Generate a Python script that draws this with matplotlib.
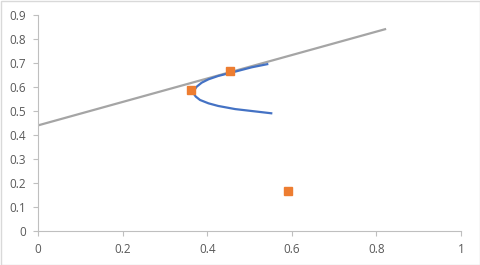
import matplotlib
matplotlib.use("Agg")
import matplotlib.pyplot as plt
from matplotlib.patches import Rectangle

# Data
line_x = [0.0, 0.823]
line_y = [0.44, 0.842]

curve_x = [0.5445, 0.505, 0.466, 0.426, 0.403, 0.387, 0.375, 0.370, 0.368, 0.369, 0.373, 0.383, 0.403, 0.426, 0.466, 0.505, 0.554]
curve_y = [0.696, 0.682, 0.664, 0.646, 0.632, 0.618, 0.601, 0.588, 0.580, 0.570, 0.560, 0.546, 0.532, 0.521, 0.508, 0.500, 0.490]

pts_x = [0.361, 0.455, 0.590]
pts_y = [0.5875, 0.667, 0.167]

xticks = [0, 0.2, 0.4, 0.6, 0.8, 1]
xtick_labels = ["0", "0.2", "0.4", "0.6", "0.8", "1"]
yticks = [0, 0.1, 0.2, 0.3, 0.4, 0.5, 0.6, 0.7, 0.8, 0.9]
ytick_labels = ["0", "0.1", "0.2", "0.3", "0.4", "0.5", "0.6", "0.7", "0.8", "0.9"]

plt.rcParams['font.family'] = ['Open Sans', 'DejaVu Sans']

fig = plt.figure(figsize=(4.8, 2.65), dpi=100)
ax = fig.add_axes([38/480, 34/265, 423/480, 216/265])

ax.plot(line_x, line_y, color="#A5A5A5", lw=1.6, solid_capstyle="butt", zorder=2)
ax.plot(curve_x, curve_y, color="#4472C4", lw=1.6, solid_joinstyle="round",
        solid_capstyle="butt", zorder=3)
ax.plot(pts_x, pts_y, linestyle="none", marker="s", markersize=6.3,
        color="#ED7D31", markeredgecolor="#ED7D31", zorder=4)

ax.set_xlim(0, 1)
ax.set_ylim(0, 0.9)
ax.set_xticks(xticks)
ax.set_xticklabels(xtick_labels)
ax.set_yticks(yticks)
ax.set_yticklabels(ytick_labels)

for s in ["top", "right"]:
    ax.spines[s].set_visible(False)
for s in ["left", "bottom"]:
    ax.spines[s].set_color("#BFBFBF")
    ax.spines[s].set_linewidth(0.8)

ax.tick_params(axis="both", direction="out", length=3.5, width=0.8, color="#BFBFBF",
               labelcolor="#595959", labelsize=8.5)
ax.tick_params(axis="x", pad=5)
ax.tick_params(axis="y", pad=5)

fig.patches.append(Rectangle((0.5/480, 0.5/265), 1 - 1/480, 1 - 1/265, transform=fig.transFigure,
                             fill=False, edgecolor="#D9D9D9", linewidth=1))

fig.savefig("out.png", dpi=100)
